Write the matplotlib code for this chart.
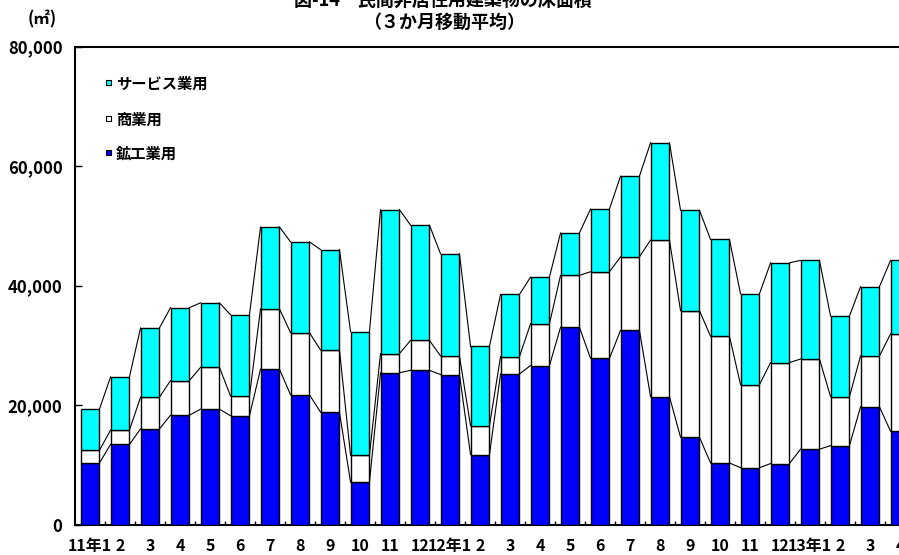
import matplotlib
matplotlib.use('Agg')
import matplotlib.pyplot as plt
import numpy as np

plt.rcParams['font.family'] = ['Noto Sans CJK JP', 'DejaVu Sans']
plt.rcParams['font.weight'] = 'bold'

months = ['11年1', '2', '3', '4', '5', '6', '7', '8', '9', '10', '11', '12',
          '12年1', '2', '3', '4', '5', '6', '7', '8', '9', '10', '11', '12',
          '13年1', '2', '3', '4']
mining = [10300, 13400, 16000, 18300, 19300, 18200, 26000, 21700, 18800, 7100,
          25400, 25800, 25100, 11700, 25200, 26600, 33000, 27800, 32500, 21400,
          14600, 10300, 9500, 10200, 12600, 13200, 19700, 15600]
commerce = [2100, 2400, 5300, 5800, 7000, 3300, 10100, 10400, 10400, 4500,
            3200, 5000, 3100, 4800, 2900, 7000, 8700, 14500, 12300, 26200,
            21200, 21200, 13900, 16900, 15100, 8200, 8500, 16300]
service = [6900, 8900, 11600, 12200, 10800, 13600, 13700, 15200, 16800, 20700,
           24100, 19300, 17100, 13300, 10400, 7800, 7100, 10500, 13500, 16300,
           16800, 16200, 15200, 16700, 16500, 13500, 11600, 12300]
series_names = ['鉱工業用', '商業用', 'サービス業用']
colors = ['#0000ff', '#ffffff', '#00ffff']
yticks = [0, 20000, 40000, 60000, 80000]

fig = plt.figure(figsize=(8.99, 5.55), dpi=100)
# axes run past the right edge of the figure, so the last bar is clipped
ax = fig.add_axes([75 / 899, 30.5 / 555, 840 / 899, 478 / 555])

x = np.arange(len(months))
w = 0.63
bottom = np.zeros(len(months))
for vals, col in zip([mining, commerce, service], colors):
    vals = np.array(vals)
    ax.bar(x, vals, w, bottom=bottom, color=col, edgecolor='black', linewidth=1.0, zorder=3)
    bottom = bottom + vals
    # series lines joining the tops of neighbouring bars
    for i in range(len(months) - 1):
        ax.plot([x[i] + w / 2, x[i + 1] - w / 2], [bottom[i], bottom[i + 1]],
                color='black', linewidth=0.8, zorder=2)

ax.set_xlim(-0.5, len(months) - 0.5)
ax.set_ylim(0, 80000)
ax.set_yticks(yticks)
ax.set_yticklabels(['{:,}'.format(v) for v in yticks])
ax.tick_params(axis='y', direction='in', length=5, width=1, pad=9, labelsize=12)
ax.set_xticks(x)
ax.set_xticklabels(months)
ax.tick_params(axis='x', which='major', length=0, pad=10, labelsize=11.5)
ax.set_xticks(x[:-1] + 0.5, minor=True)
ax.tick_params(axis='x', which='minor', direction='in', length=3, width=1)
for s in ax.spines.values():
    s.set_linewidth(1.5)

# legend drawn by hand, top row first
legend_rows = [(2, 84), (1, 120), (0, 154)]
for k, ypix in legend_rows:
    yf = (555 - ypix) / 555
    fig.patches.append(plt.Rectangle((105.5 / 899, (555 - ypix - 1) / 555), 5 / 899, 5 / 555,
                                     transform=fig.transFigure, facecolor=colors[k],
                                     edgecolor='black', linewidth=0.8))
    fig.text(116 / 899, yf, series_names[k], fontsize=11, va='center', ha='left')

fig.text(443 / 899, 1.0, '図-14　民間非居住用建築物の床面積', fontsize=13, ha='center', va='center')
fig.text(444 / 899, (555 - 22) / 555, '（３か月移動平均）', fontsize=13, ha='center', va='center')
fig.text(42 / 899, (555 - 19) / 555, '(㎡)', fontsize=12, ha='center', va='center')

fig.savefig('out.png', dpi=100)
